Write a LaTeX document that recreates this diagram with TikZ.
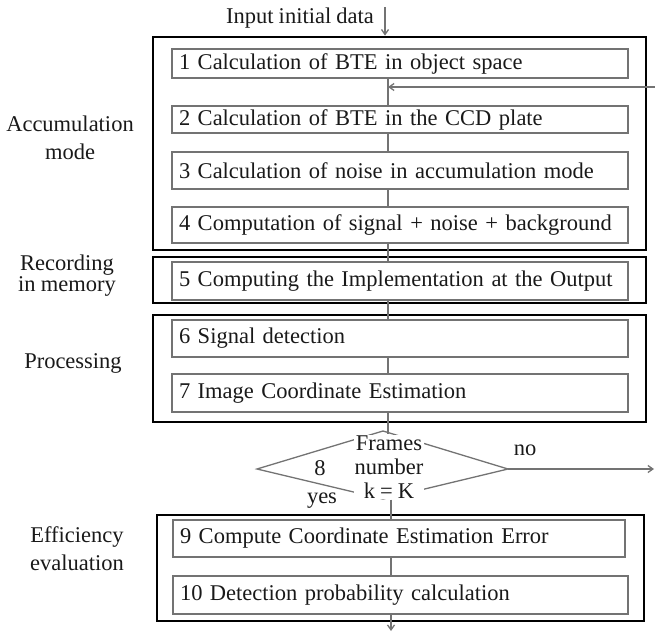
\documentclass[tikz,border=0pt]{standalone}
\usepackage{fontspec}
\setmainfont{Liberation Serif}[WordSpace={0.9,0.5,0.3}]
\usetikzlibrary{arrows.meta}
\begin{document}
\begin{tikzpicture}[x=1pt,y=-1pt,
  font=\fontsize{22.5}{24}\selectfont,
  group/.style={draw=black, line width=2.8pt, inner sep=0pt},
  stepbox/.style={draw=black!55, line width=2.2pt, inner xsep=7pt, inner ysep=0pt,
    minimum width=456pt, text width=442pt, align=left, text=black!90},
  conn/.style={draw=black!55, line width=1.3pt},
  arr/.style={conn, -{Straight Barb[length=5pt,width=7pt]}},
  lab/.style={align=center, text=black!90, inner sep=0pt}]
\useasboundingbox (0,0) rectangle (655,631);
\coordinate (sp) at (388,0);

% group frames
\node[group, minimum width=493pt, minimum height=213pt] (g1) at (399.5,143.5) {};
\node[group, minimum width=493pt, minimum height=46pt]  (g2) at (399.5,280) {};
\node[group, minimum width=493pt, minimum height=107pt] (g3) at (399.5,368.5) {};
\node[group, minimum width=487pt, minimum height=106pt] (g4) at (400.5,568) {};

% step boxes
\node[stepbox, minimum height=29pt] (b1) at (400,63.5) {1 Calculation of BTE in object space};
\node[stepbox, minimum height=27pt] (b2) at (400,119.5) {2 Calculation of BTE in the CCD plate};
\node[stepbox, minimum height=37pt] (b3) at (400,170.5) {3 Calculation of noise in accumulation mode};
\node[stepbox, minimum height=36pt] (b4) at (400,225) {4 Computation of signal + noise + background};
\node[stepbox, minimum height=38pt] (b5) at (400,281) {5 Computing the Implementation at the Output};
\node[stepbox, minimum height=37pt] (b6) at (400,338.5) {6 Signal detection};
\node[stepbox, minimum height=38pt] (b7) at (400,393) {7 Image Coordinate Estimation};
\node[stepbox, minimum height=37pt, minimum width=452pt, text width=438pt] (b9) at (399,538.5) {9 Compute Coordinate Estimation Error};
\node[stepbox, minimum height=38pt, minimum width=455pt, text width=441pt] (b10) at (400.5,595) {10 Detection probability calculation};

% decision (flattened diamond)
\coordinate (dl) at (257,469);
\coordinate (dr) at (508,469);
\coordinate (dT) at (383,431);
\coordinate (dB) at (383,499);
\draw[conn] (dl) -- (dT) -- (dr) -- (dB) -- cycle;
\node[fill=white, inner sep=1pt, align=center, text=black!90] (dt) at (389,467) {Frames\\number\\k = K};
\node[lab] (n8) at (320,468) {8};
\node[lab] (yes) at (322,501) {yes};
\node[lab] (no) at (525,450) {no};

% input
\node[lab] (in) at (300,18) {Input initial data};
\coordinate (inS) at (385,7);
\draw[arr] (inS) -- (inS |- g1.north);

% spine connectors
\draw[conn] (b1.south -| sp) -- (b2.north -| sp);
\draw[conn] (b2.south -| sp) -- (b3.north -| sp);
\draw[conn] (b3.south -| sp) -- (b4.north -| sp);
\draw[conn] (b4.south -| sp) -- (b5.north -| sp);
\draw[conn] (b5.south -| sp) -- (b6.north -| sp);
\draw[conn] (b6.south -| sp) -- (b7.north -| sp);
\draw[conn] (b7.south -| sp) -- (dt.north -| sp);
\coordinate (sp2) at (391,0);
\draw[conn] (dt.south -| sp2) -- (b9.north -| sp2);
\draw[conn] (b9.south -| sp2) -- (b10.north -| sp2);
\coordinate (bot) at (391,631);
\draw[arr] (b10.south -| bot) -- (bot);

% no branch and feedback
\coordinate (noE) at (654,469);
\draw[arr] (dr) -- (noE);
\coordinate (fbS) at (655,87);
\draw[arr] (fbS) -- (fbS -| sp);

% side labels
\node[lab] (l1) at (70,138) {Accumulation\\[4pt]mode};
\node[lab] (l2) at (67,275.5) {Recording\\[-3pt]in memory};
\node[lab] (l3) at (73,363) {Processing};
\node[lab] (l4) at (77,549) {Efficiency\\[4pt]evaluation};
\end{tikzpicture}
\end{document}
